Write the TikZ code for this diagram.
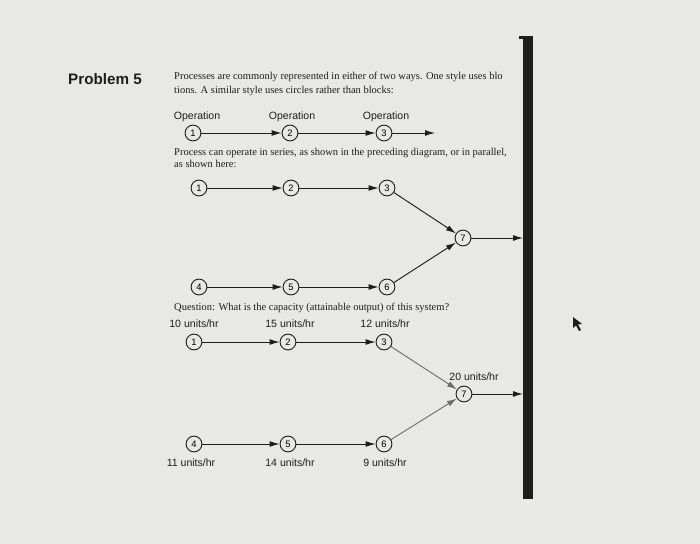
\documentclass[tikz,border=0pt]{standalone}
\usepackage{fontspec}
\setmainfont{Liberation Serif}
\setsansfont{Liberation Sans}
\usetikzlibrary{arrows.meta}

\definecolor{paper}{RGB}{232,232,230}
\definecolor{ink}{RGB}{30,30,30}

\begin{document}
\begin{tikzpicture}[x=0.03cm, y=-0.03cm,
  op/.style={circle, draw=ink, line width=0.8pt, minimum size=13.5pt, inner sep=0pt, font=\sffamily\fontsize{8}{8}\selectfont},
  rate/.style={anchor=base, inner sep=0pt, text=ink, font=\sffamily\fontsize{9}{10}\selectfont},
  para/.style={anchor=base west, inner sep=0pt, text=ink, font=\fontsize{8.95}{10}\selectfont},
  flow/.style={draw=ink, line width=0.8pt, -{Latex[length=8.5pt,width=5pt]}},
  faint/.style={flow, draw=ink!65}]

% page
\fill[paper] (0,0) rectangle (700,544);

% heading and text
\node[anchor=base west, inner sep=0pt, text=ink, font=\sffamily\bfseries\fontsize{13}{14}\selectfont] (title) at (68,85) {Problem 5};
\node[para] (line1) at (174,80) {Processes are commonly represented in either of two ways. One style uses blo};
\node[para] (line2) at (174,94) {tions. A similar style uses circles rather than blocks:};

% series
\node[rate] (n1) at (197,120) {Operation};
\node[rate] (n2) at (292,120) {Operation};
\node[rate] (n3) at (386,120) {Operation};
\node[op] (o1) at (193,133) {1};
\node[op] (o2) at (290,133) {2};
\node[op] (o3) at (384,133) {3};
\coordinate (oend) at (435,133);
\draw[flow] (o1) -- (o2);
\draw[flow] (o2) -- (o3);
\draw[flow] (o3) -- (oend);

\node[para] (line3) at (174,156) {Process can operate in series, as shown in the preceding diagram, or in parallel,};
\node[para] (line4) at (174,168) {as shown here:};

% parallel
\node[op] (a1) at (199,188) {1};
\node[op] (a2) at (291,188) {2};
\node[op] (a3) at (387,188) {3};
\node[op] (a4) at (199,287) {4};
\node[op] (a5) at (291,287) {5};
\node[op] (a6) at (387,287) {6};
\node[op] (a7) at (463,238) {7};
\coordinate (aend) at (523,238);
\draw[flow] (a1) -- (a2);
\draw[flow] (a2) -- (a3);
\draw[flow] (a4) -- (a5);
\draw[flow] (a5) -- (a6);
\draw[flow] (a3) -- (a7);
\draw[flow] (a6) -- (a7);
\draw[flow] (a7) -- (aend);

\node[para] (line5) at (174,311) {Question: What is the capacity (attainable output) of this system?};

% question
\node[rate] (r1) at (194,328) {10 units/hr};
\node[rate] (r2) at (290,328) {15 units/hr};
\node[rate] (r3) at (385,328) {12 units/hr};
\node[rate] (r7) at (474,381) {20 units/hr};
\node[rate] (r4) at (191,466) {11 units/hr};
\node[rate] (r5) at (290,466) {14 units/hr};
\node[rate] (r6) at (385,466) {9 units/hr};
\node[op] (b1) at (194,342) {1};
\node[op] (b2) at (288,342) {2};
\node[op] (b3) at (384,342) {3};
\node[op] (b4) at (194,444) {4};
\node[op] (b5) at (288,444) {5};
\node[op] (b6) at (384,444) {6};
\node[op] (b7) at (464,394) {7};
\coordinate (bend) at (523,394);
\draw[flow] (b1) -- (b2);
\draw[flow] (b2) -- (b3);
\draw[flow] (b4) -- (b5);
\draw[flow] (b5) -- (b6);
\draw[faint] (b3) -- (b7);
\draw[faint] (b6) -- (b7);
\draw[flow] (b7) -- (bend);

% binding edge
\fill[ink] (523,38) rectangle (533,499);
\fill[ink] (519,36) rectangle (533,39);

% pointer
\fill[ink] (573,317) -- (573,328) -- (576,325.5) -- (579,331) -- (581,330) -- (578,324.5) -- (582,324) -- cycle;
\end{tikzpicture}
\end{document}
